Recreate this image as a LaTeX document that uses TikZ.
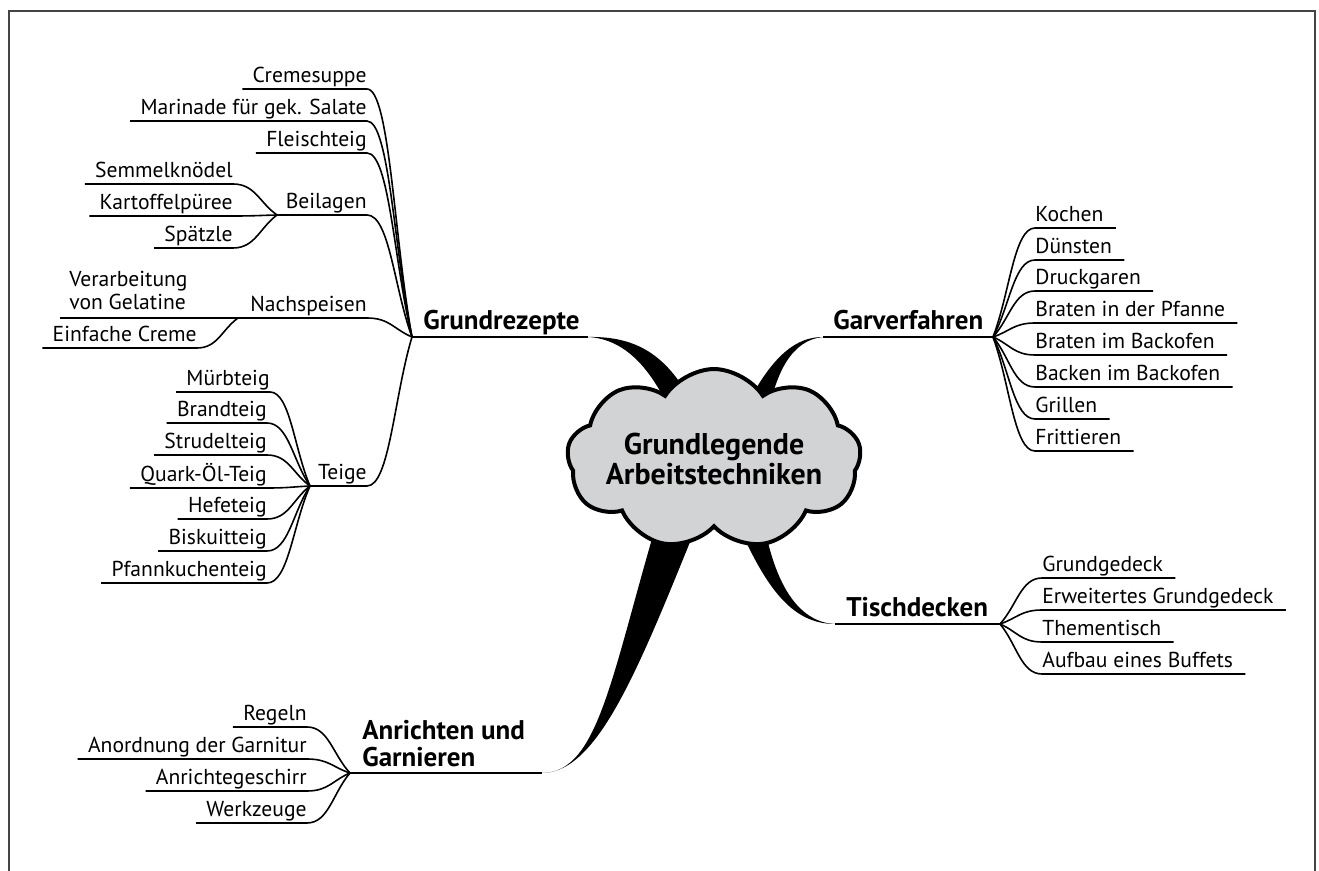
\documentclass[tikz,border=0pt]{standalone}
\usepackage{fontspec}
\setmainfont{PT Sans}
\usetikzlibrary{calc,shapes.symbols}
\definecolor{cloudgray}{HTML}{D1D3D4}
\definecolor{framegray}{HTML}{444444}

\begin{document}
\begin{tikzpicture}[x=0.5pt, y=-0.5pt,
		leaf/.style={inner sep=0pt, text depth=3pt,
				font=\fontsize{10.8}{11.5}\selectfont},
		branch/.style={inner sep=0pt, text depth=3.5pt,
				font=\fontsize{13.5}{13.5}\selectfont\bfseries},
		twig/.style={line width=0.8pt},
		stem/.style={line width=1pt},
		wedge/.style={fill=black},
		link/.style={to path={.. controls ($(\tikztostart)!0.4!(\tikztotarget)$)
						and ($(\tikztotarget)!0.5!(\tikztostart|-\tikztotarget)$) .. (\tikztotarget)}},
		core/.style={cloud, cloud puffs=9, cloud puff arc=115, aspect=2.1,
				minimum width=147pt, minimum height=71pt,
				inner xsep=-4pt, inner ysep=-7pt,
				draw, line width=2pt, fill=cloudgray, align=center,
				font=\fontsize{15}{15}\selectfont\bfseries},
		]

		\useasboundingbox (0,0) rectangle (1319,871);
		\draw[framegray, line width=1pt] (9,871) -- (9,11) -- (1315,11) -- (1315,871);

		% ---- Grundrezepte ----
		\coordinate (jrez) at (412,337);
		\coordinate (rezend) at (588,337);
		\node[branch, anchor=south west] (rez) at (423,337) {Grundrezepte};
		\draw[stem] (jrez) -- (rezend);

		\node[leaf, anchor=south east] (cremesuppe) at (367,89) {Cremesuppe};
		\node[leaf, anchor=south east] (marinade) at (367,121) {Marinade für gek. Salate};
		\node[leaf, anchor=south east] (fleischteig) at (367,153) {Fleischteig};
		\draw[twig] (jrez) to[link] (cremesuppe.south east) -- ([xshift=-5pt]cremesuppe.south west);
		\draw[twig] (jrez) to[link] (marinade.south east) -- ([xshift=-5pt]marinade.south west);
		\draw[twig] (jrez) to[link] (fleischteig.south east) -- ([xshift=-5pt]fleischteig.south west);

		% Beilagen
		\coordinate (jbei) at (277,215);
		\node[leaf, anchor=south east] (beilagen) at (367,215) {Beilagen};
		\draw[twig] (jrez) to[link] (beilagen.south east) -- (jbei);
		\node[leaf, anchor=south east] (semmel) at (233,184) {Semmelknödel};
		\node[leaf, anchor=south east] (kartoffel) at (233,216) {Kartoffelpüree};
		\node[leaf, anchor=south east] (spaetzle) at (233,248) {Spätzle};
		\draw[twig] (jbei) to[link] (semmel.south east) -- ([xshift=-5pt]semmel.south west);
		\draw[twig] (jbei) to[link] (kartoffel.south east) -- ([xshift=-5pt]kartoffel.south west);
		\draw[twig] (jbei) to[link] (spaetzle.south east) -- ([xshift=-5pt]spaetzle.south west);

		% Nachspeisen
		\coordinate (jnach) at (238,318);
		\node[leaf, anchor=south east] (nachspeisen) at (367,318) {Nachspeisen};
		\draw[twig] (jrez) to[link] (nachspeisen.south east) -- (jnach);
		\node[leaf, anchor=south west, align=left, text depth=0pt] (gelatine) at (69,310)
		{Verarbeitung\\von Gelatine};
		\node[leaf, anchor=south east] (creme) at (197,348) {Einfache Creme};
		\draw[twig] (jnach) -- (jnach -| gelatine.west) -- ++(-9,0);
		\draw[twig] (jnach) to[link] (creme.south east) -- ([xshift=-5pt]creme.south west);

		% Teige
		\coordinate (jteig) at (310,486);
		\node[leaf, anchor=south east] (teige) at (367,486) {Teige};
		\draw[twig] (jrez) to[link] (teige.south east) -- (jteig);
		\node[leaf, anchor=south east] (muerb) at (270,392) {Mürbteig};
		\node[leaf, anchor=south east] (brand) at (267,423) {Brandteig};
		\node[leaf, anchor=south east] (strudel) at (267,455) {Strudelteig};
		\node[leaf, anchor=south east] (quark) at (267,488) {Quark-Öl-Teig};
		\node[leaf, anchor=south east] (hefe) at (267,519) {Hefeteig};
		\node[leaf, anchor=south east] (biskuit) at (267,551) {Biskuitteig};
		\node[leaf, anchor=south east] (pfann) at (267,583) {Pfannkuchenteig};
		\draw[twig] (jteig) to[link] (muerb.south east) -- ([xshift=-5pt]muerb.south west);
		\draw[twig] (jteig) to[link] (brand.south east) -- ([xshift=-5pt]brand.south west);
		\draw[twig] (jteig) to[link] (strudel.south east) -- ([xshift=-5pt]strudel.south west);
		\draw[twig] (jteig) to[link] (quark.south east) -- ([xshift=-5pt]quark.south west);
		\draw[twig] (jteig) to[link] (hefe.south east) -- ([xshift=-5pt]hefe.south west);
		\draw[twig] (jteig) to[link] (biskuit.south east) -- ([xshift=-5pt]biskuit.south west);
		\draw[twig] (jteig) to[link] (pfann.south east) -- ([xshift=-5pt]pfann.south west);

		% ---- Garverfahren ----
		\coordinate (jgar) at (993,337);
		\coordinate (garend) at (823,337);
		\node[branch, anchor=south west] (gar) at (833,337) {Garverfahren};
		\draw[stem] (garend) -- (jgar);

		\node[leaf, anchor=south west] (kochen) at (1035,228) {Kochen};
		\node[leaf, anchor=south west] (duensten) at (1035,260) {Dünsten};
		\node[leaf, anchor=south west] (druck) at (1035,291) {Druckgaren};
		\node[leaf, anchor=south west] (pfanne) at (1035,323) {Braten in der Pfanne};
		\node[leaf, anchor=south west] (ofen) at (1035,355) {Braten im Backofen};
		\node[leaf, anchor=south west] (backen) at (1035,387) {Backen im Backofen};
		\node[leaf, anchor=south west] (grillen) at (1035,419) {Grillen};
		\node[leaf, anchor=south west] (fritt) at (1035,451) {Frittieren};
		\draw[twig] (jgar) to[link] (kochen.south west) -- ([xshift=6pt]kochen.south east);
		\draw[twig] (jgar) to[link] (duensten.south west) -- ([xshift=6pt]duensten.south east);
		\draw[twig] (jgar) to[link] (druck.south west) -- ([xshift=6pt]druck.south east);
		\draw[twig] (jgar) to[link] (pfanne.south west) -- ([xshift=6pt]pfanne.south east);
		\draw[twig] (jgar) to[link] (ofen.south west) -- ([xshift=6pt]ofen.south east);
		\draw[twig] (jgar) to[link] (backen.south west) -- ([xshift=6pt]backen.south east);
		\draw[twig] (jgar) to[link] (grillen.south west) -- ([xshift=6pt]grillen.south east);
		\draw[twig] (jgar) to[link] (fritt.south west) -- ([xshift=6pt]fritt.south east);

		% ---- Tischdecken ----
		\coordinate (jtisch) at (1000,624);
		\coordinate (tischend) at (835,624);
		\node[branch, anchor=south west] (tisch) at (846,624) {Tischdecken};
		\draw[stem] (tischend) -- (jtisch);

		\node[leaf, anchor=south west] (gedeck) at (1042,578) {Grundgedeck};
		\node[leaf, anchor=south west] (erweitert) at (1042,610) {Erweitertes Grundgedeck};
		\node[leaf, anchor=south west] (thema) at (1042,642) {Thementisch};
		\node[leaf, anchor=south west] (buffet) at (1042,674) {Aufbau eines Buffets};
		\draw[twig] (jtisch) to[link] (gedeck.south west) -- ([xshift=6pt]gedeck.south east);
		\draw[twig] (jtisch) to[link] (erweitert.south west) -- ([xshift=6pt]erweitert.south east);
		\draw[twig] (jtisch) to[link] (thema.south west) -- ([xshift=6pt]thema.south east);
		\draw[twig] (jtisch) to[link] (buffet.south west) -- ([xshift=6pt]buffet.south east);

		% ---- Anrichten und Garnieren ----
		\coordinate (janr) at (350,773);
		\coordinate (anrend) at (542,773);
		\node[branch, anchor=south west, align=left, text depth=0pt] (anr) at (362,767)
		{Anrichten und\\Garnieren};
		\draw[stem] (janr) -- (anrend);

		\node[leaf, anchor=south east] (regeln) at (307,727) {Regeln};
		\node[leaf, anchor=south east] (garnitur) at (307,759) {Anordnung der Garnitur};
		\node[leaf, anchor=south east] (geschirr) at (307,791) {Anrichtegeschirr};
		\node[leaf, anchor=south east] (werkzeug) at (307,823) {Werkzeuge};
		\draw[twig] (janr) to[link] (regeln.south east) -- ([xshift=-5pt]regeln.south west);
		\draw[twig] (janr) to[link] (garnitur.south east) -- ([xshift=-5pt]garnitur.south west);
		\draw[twig] (janr) to[link] (geschirr.south east) -- ([xshift=-5pt]geschirr.south west);
		\draw[twig] (janr) to[link] (werkzeug.south east) -- ([xshift=-5pt]werkzeug.south west);

		% ---- Hauptäste zur Wolke ----
		\fill[wedge] (rezend) .. controls (640,336) and (670,358) .. (696,410)
		-- (670,410) .. controls (650,368) and (625,339) .. (rezend) -- cycle;
		\fill[wedge] (garend) .. controls (790,337) and (765,365) .. (737,425)
		-- (768,415) .. controls (776,372) and (792,340) .. (garend) -- cycle;
		\fill[wedge] (tischend) .. controls (790,624) and (762,585) .. (728,500)
		-- (760,495) .. controls (768,570) and (792,622) .. (tischend) -- cycle;
		\fill[wedge] (anrend) .. controls (600,773) and (612,670) .. (662,505)
		-- (705,505) .. controls (642,660) and (600,773) .. (anrend) -- cycle;

		% ---- Zentrum ----
		\node[core] (zentrum) at (714,459) {Grundlegende\\Arbeitstechniken};

	\end{tikzpicture}
\end{document}
